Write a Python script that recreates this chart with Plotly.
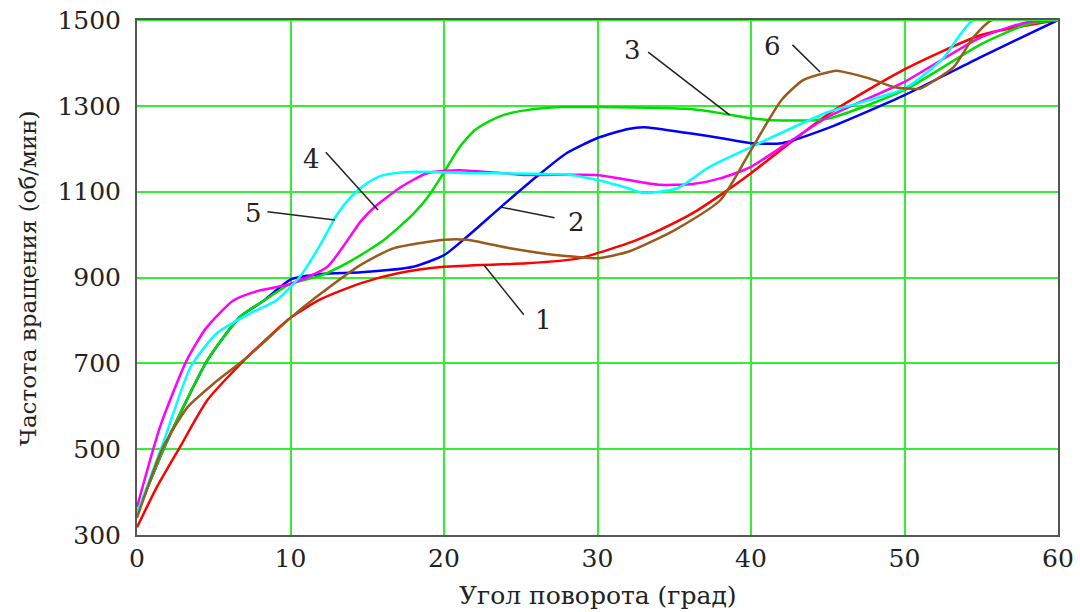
import plotly.graph_objects as go

# ---- data ----
x_red = [0, 1.3, 2.8, 4.6, 7.2, 10, 12, 14.6, 17, 20, 25.4, 28.7, 32, 34, 36.2, 38, 40, 45, 50, 55, 60]
y_red = [318, 412, 505, 615, 715, 806, 850, 887, 910, 925, 933, 944, 980, 1010, 1050, 1092, 1143, 1280, 1385, 1465, 1500]

x_blue = [0, 1.9, 4.6, 6.7, 8.3, 10, 12, 14.6, 18, 20, 21.5, 23.7, 26, 28, 30, 32, 33, 36, 38, 40, 42, 45, 50, 55, 60]
y_blue = [350, 514, 708, 808, 847, 895, 908, 912, 925, 952, 995, 1064, 1134, 1190, 1225, 1246, 1250, 1236, 1225, 1213, 1213, 1248, 1325, 1414, 1500]

x_green = [0, 1.9, 4.6, 6.7, 8.3, 10, 12, 14, 16, 17, 18, 19, 20, 21, 22, 23, 24, 25.4, 27.6, 30, 36.2, 38, 40, 42, 45, 50, 55, 58, 60]
y_green = [350, 514, 708, 808, 847, 885, 905, 940, 985, 1015, 1048, 1090, 1145, 1203, 1243, 1265, 1280, 1290, 1297, 1297, 1292, 1283, 1271, 1266, 1270, 1337, 1444, 1490, 1500]

x_mag = [0, 1.5, 3.2, 4.5, 6.3, 8, 10, 12.4, 14.6, 15.5, 17.2, 18.9, 21, 25.4, 30, 32, 34, 36.2, 38, 40, 45, 50, 55, 58, 60]
y_mag = [365, 552, 704, 782, 847, 870, 885, 925, 1032, 1065, 1111, 1143, 1150, 1139, 1139, 1127, 1116, 1118, 1131, 1158, 1274, 1356, 1460, 1495, 1500]

x_cyan = [0, 1.7, 3.5, 5.2, 7.4, 9.1, 10.7, 12, 13, 14, 15, 16, 17.8, 22, 28, 30, 32, 33, 35.2, 37.3, 40, 45, 50, 52.5, 54.5, 60]
y_cyan = [350, 514, 692, 770, 817, 847, 906, 980, 1045, 1090, 1120, 1138, 1146, 1143, 1140, 1127, 1108, 1097, 1108, 1158, 1204, 1285, 1340, 1410, 1500, 1500]

x_brown = [0, 1.7, 3.3, 5, 7.2, 10, 11.7, 14.6, 16.7, 20, 21.5, 24.3, 26.7, 28.7, 30, 32, 35, 38, 40, 42, 43.4, 45.1, 45.6, 47.7, 49.3, 51, 52, 53.2, 54.5, 55.7, 60]
y_brown = [340, 505, 598, 653, 715, 806, 855, 930, 968, 988, 988, 968, 955, 948, 945, 960, 1010, 1080, 1197, 1314, 1360, 1379, 1382, 1364, 1344, 1340, 1360, 1390, 1460, 1500, 1500]

series_names = ["1", "2", "3", "4", "5", "6"]
series_x = [x_red, x_blue, x_green, x_mag, x_cyan, x_brown]
series_y = [y_red, y_blue, y_green, y_mag, y_cyan, y_brown]
series_colors = ["#ff0000", "#0000ff", "#00dd00", "#ff00ff", "#00ffff", "#9a5a1e"]

x_ticks = [0, 10, 20, 30, 40, 50, 60]
y_ticks = [300, 500, 700, 900, 1100, 1300, 1500]

# label positions and leader lines (in data units)
label_text = ["1", "2", "3", "4", "5", "6"]
label_pos = [(26.5, 801), (28.6, 1029), (32.3, 1430), (11.4, 1176), (7.6, 1050), (41.4, 1439)]
leader_lines = [((22.6, 929), (25.2, 813)),
                ((23.7, 1064), (27.2, 1039)),
                ((33.3, 1425), (38.6, 1279)),
                ((12.3, 1192), (15.7, 1057)),
                ((8.5, 1053), (12.9, 1034)),
                ((42.7, 1442), (44.5, 1379))]

FONT = "DejaVu Serif"

fig = go.Figure()
for name, xs, ys, c in zip(series_names, series_x, series_y, series_colors):
    fig.add_trace(go.Scatter(x=xs, y=ys, mode="lines", name=name,
                             line=dict(color=c, width=2.5, shape="spline", smoothing=0.6),
                             showlegend=False, cliponaxis=True))

for (a, b) in leader_lines:
    fig.add_shape(type="line", xref="x", yref="y", x0=a[0], y0=a[1], x1=b[0], y1=b[1],
                  line=dict(color="#222222", width=1.5))

for t, (lx, ly) in zip(label_text, label_pos):
    fig.add_annotation(x=lx, y=ly, text=t, showarrow=False,
                       font=dict(family=FONT, size=26, color="#222222"))

# green top line over the frame
fig.add_shape(type="line", xref="paper", yref="y", x0=0, x1=1, y0=1500, y1=1500,
              line=dict(color="#33ee33", width=2), layer="above")

# axis titles
fig.add_annotation(xref="paper", yref="paper", x=0.5, y=-0.118, yanchor="middle", xanchor="center",
                   text="Угол поворота (град)", showarrow=False,
                   font=dict(family=FONT, size=25, color="#222222"))
fig.add_annotation(xref="paper", yref="paper", x=-0.119, y=0.5, xanchor="center", yanchor="middle",
                   text="Частота вращения (об/мин)", showarrow=False, textangle=-90,
                   font=dict(family=FONT, size=23, color="#222222"))

fig.update_layout(
    width=1080, height=612,
    margin=dict(l=137, r=22, t=20, b=77, autoexpand=False),
    paper_bgcolor="white", plot_bgcolor="white",
    font=dict(family=FONT, color="#222222"),
)
fig.update_xaxes(range=[0, 60], tickvals=x_ticks, showgrid=True, gridcolor="#33ee33", gridwidth=2,
                 zeroline=False, showline=True, mirror=True, linecolor="#555555", linewidth=2,
                 ticks="", ticklabelstandoff=0, automargin=False,
                 tickfont=dict(family=FONT, size=25, color="#222222"))
fig.update_yaxes(range=[300, 1500], tickvals=y_ticks, showgrid=True, gridcolor="#33ee33", gridwidth=2,
                 zeroline=False, showline=True, mirror=True, linecolor="#555555", linewidth=2,
                 ticks="", ticklabelstandoff=9, automargin=False,
                 tickfont=dict(family=FONT, size=25, color="#222222"))

fig.write_html("out.html")
